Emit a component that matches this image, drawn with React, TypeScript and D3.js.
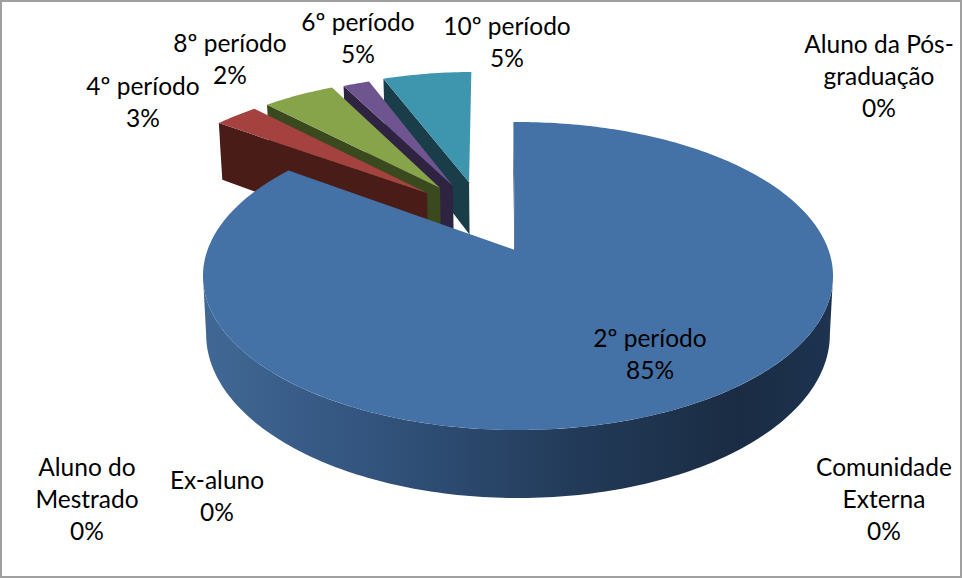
import React from "react";
import * as d3 from "d3";

const categories = ["2º período", "4º período", "6º período", "8º período", "10º período", "Aluno da Pós-graduação", "Comunidade Externa", "Ex-aluno", "Aluno do Mestrado"];
const shares = [85.2, 2.8, 4.6, 1.7, 5.7, 0, 0, 0, 0];
const topColors = ["#4471A6", "#A5423F", "#87A44A", "#6F558F", "#3E96AE", "#DA8137", "#4F81BD", "#C0504D", "#9BBB59"];
const faceColors = ["#1C2E47", "#4A1C18", "#3A4A1E", "#2E2340", "#1A3D4A", "#000", "#000", "#000", "#000"];
const explodeAmount = [0, 0.513, 0.521, 0.513, 0.519, 0, 0, 0, 0];
const explodeAngle = [0, 322.4, 328.8, 333.9, 340.8, 0, 0, 0, 0];
const faceDepth = [1, 1.17, 1, 1, 1, 1, 1, 1, 1];
const labelLines = [
  { lines: ["2º período", "85%"], x: 650, y: 347 },
  { lines: ["4º período", "3%"], x: 143, y: 95 },
  { lines: ["6º período", "5%"], x: 358, y: 31 },
  { lines: ["8º período", "2%"], x: 230, y: 52 },
  { lines: ["10º período", "5%"], x: 507, y: 35 },
  { lines: ["Aluno da Pós-", "graduação", "0%"], x: 879, y: 53 },
  { lines: ["Comunidade", "Externa", "0%"], x: 884, y: 476 },
  { lines: ["Ex-aluno", "0%"], x: 217, y: 489 },
  { lines: ["Aluno do", "Mestrado", "0%"], x: 87, y: 476 },
];

const W = 962, H = 578;
const cx = 518, cy = 250, KX = 310.5, KY = 149.6, P = 0.169, DEPTH = 56.5, NARROW = 0.01;
const ROTATE = (-1 * Math.PI) / 180;
const BLUE_APEX_U = -0.0097;

type Pt = [number, number];
const project = (u: number, v: number, z = 0): Pt => {
  const s = 1 / (1 + P * v);
  return [cx + KX * u * s * (1 - NARROW * z), cy - KY * v * s + z * DEPTH * s];
};
const line = d3.line<Pt>().x(d => d[0]).y(d => d[1]);
const rad = (deg: number) => (deg * Math.PI) / 180;

const arcs = d3.pie<number>().sort(null).startAngle(ROTATE).endAngle(2 * Math.PI + ROTATE)(shares);

function rim(a0: number, a1: number, ox: number, oy: number, z: number): Pt[] {
  const n = Math.max(2, Math.ceil(((a1 - a0) * 180) / Math.PI));
  return d3.range(n + 1).map(i => {
    const t = a0 + ((a1 - a0) * i) / n;
    return project(ox + Math.sin(t), oy + Math.cos(t), z);
  });
}

const slices = arcs
  .map((a, i) => {
    const ox = explodeAmount[i] * Math.sin(rad(explodeAngle[i]));
    const oy = explodeAmount[i] * Math.cos(rad(explodeAngle[i]));
    const apexU = i === 0 ? BLUE_APEX_U : ox;
    const d = faceDepth[i];
    const apex = project(apexU, oy);
    const apexLow = project(apexU, oy, d);
    const outer = project(ox + Math.sin(a.startAngle), oy + Math.cos(a.startAngle));
    const outerLow = project(ox + Math.sin(a.startAngle), oy + Math.cos(a.startAngle), d);
    return {
      i,
      value: a.value,
      top: line([apex, ...rim(a.startAngle, a.endAngle, ox, oy, 0)])! + "Z",
      face: line([outer, apex, apexLow, outerLow])! + "Z",
    };
  })
  .filter(s => s.value > 0);

const wall = line([...rim(rad(99.7), rad(260.3), 0, 0, 0), ...rim(rad(99.7), rad(260.3), 0, 0, 1).reverse()])! + "Z";

export default function App() {
  const drawOrder = [...slices].reverse();
  return (
    <svg width={W} height={H} viewBox={`0 0 ${W} ${H}`} style={{ position: "fixed", left: 0, top: 0, background: "#fff" }}>
      <defs>
        <linearGradient id="wallGrad" gradientUnits="userSpaceOnUse" x1={203} x2={833} y1={0} y2={0}>
          <stop offset="0" stopColor="#416895" />
          <stop offset="0.25" stopColor="#33557F" />
          <stop offset="0.6" stopColor="#223A58" />
          <stop offset="0.85" stopColor="#1A2C43" />
          <stop offset="1" stopColor="#1D3350" />
        </linearGradient>
      </defs>
      <rect x={1} y={1} width={W - 2} height={H - 2} fill="#fff" stroke="#a0a0a0" strokeWidth={2} />
      {drawOrder.map(s => (
        <g key={categories[s.i]}>
          <path d={s.face} fill={faceColors[s.i]} />
          {s.i === 0 && <path d={wall} fill="url(#wallGrad)" />}
          <path d={s.top} fill={topColors[s.i]} />
        </g>
      ))}
      {labelLines.map(l => (
        <text key={l.lines.join()} textAnchor="middle" fontFamily="Lato" fontSize={24.5} fill="#000">
          {l.lines.map((t, j) => (
            <tspan key={j} x={l.x} y={l.y + j * 32}>{t}</tspan>
          ))}
        </text>
      ))}
    </svg>
  );
}
